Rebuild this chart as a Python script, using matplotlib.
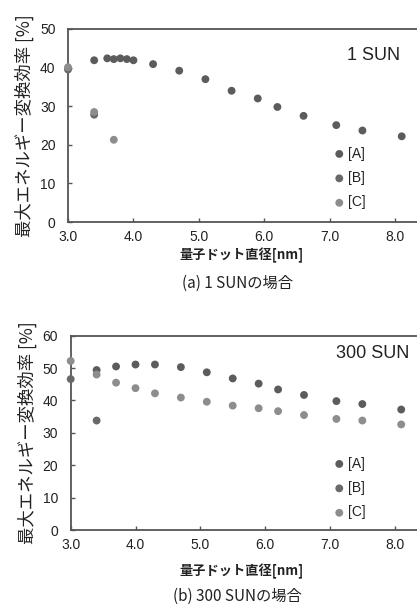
import matplotlib
matplotlib.use("Agg")
import matplotlib.pyplot as plt

plt.rcParams['font.family'] = ['Liberation Sans', 'Noto Sans CJK JP', 'DejaVu Sans']

# ---- data ----
# (a) 1 SUN
a1_x = [3.4, 3.6, 3.7, 3.8, 3.9, 4.0, 4.3, 4.7, 5.1, 5.5, 5.9, 6.2, 6.6, 7.1, 7.5, 8.1]
a1_y = [41.9, 42.4, 42.2, 42.4, 42.2, 41.9, 40.9, 39.2, 37.0, 34.0, 32.0, 29.8, 27.5, 25.1, 23.7, 22.2]
b1_x = [3.0, 3.4]
b1_y = [39.5, 27.8]
c1_x = [3.0, 3.4, 3.7]
c1_y = [40.1, 28.5, 21.3]

# (b) 300 SUN
a2_x = [3.4, 3.7, 4.0, 4.3, 4.7, 5.1, 5.5, 5.9, 6.2, 6.6, 7.1, 7.5, 8.1]
a2_y = [49.4, 50.5, 51.1, 51.1, 50.3, 48.7, 46.8, 45.2, 43.4, 41.7, 39.8, 38.9, 37.2]
b2_x = [3.0, 3.4]
b2_y = [46.6, 33.8]
c2_x = [3.0, 3.4, 3.7, 4.0, 4.3, 4.7, 5.1, 5.5, 5.9, 6.2, 6.6, 7.1, 7.5, 8.1]
c2_y = [52.2, 48.0, 45.5, 43.8, 42.2, 40.9, 39.6, 38.4, 37.6, 36.7, 35.5, 34.3, 33.8, 32.6]

series_labels = ['[A]', '[B]', '[C]']
x_ticks = [3.0, 4.0, 5.0, 6.0, 7.0, 8.0]
x_ticklabels = ['3.0', '4.0', '5.0', '6.0', '7.0', '8.0']
ylabel = '最大エネルギー変換効率 [%]'
xlabel = '量子ドット直径[nm]'

colors = ['#5c5c5c', '#696969', '#8d8d8d']
W, H = 417, 606
fig = plt.figure(figsize=(W / 100, H / 100), dpi=100)

def make_panel(rect, xlim, ymax, data, sun_text, sun_pos, leg_anchor):
    ax = fig.add_axes(rect)
    for (xs, ys), col, lab in zip(data, colors, series_labels):
        ax.scatter(xs, ys, s=32, color=col, edgecolors='none', label=lab, zorder=3, clip_on=False)
    ax.set_xlim(*xlim)
    ax.set_ylim(0, ymax)
    ax.set_xticks(x_ticks)
    ax.set_xticklabels(x_ticklabels)
    ax.set_yticks(range(0, ymax + 1, 10))
    ax.tick_params(direction='in', length=3, width=1, colors='#555555',
                   labelcolor='#222222', labelsize=10)
    ax.tick_params(axis='y', pad=9)
    ax.tick_params(axis='x', pad=6)
    ax.spines['right'].set_visible(False)
    for s in ['left', 'top', 'bottom']:
        ax.spines[s].set_color('#555555')
        ax.spines[s].set_linewidth(1.3)
    ax.set_ylabel(ylabel, fontsize=12.5, family=['Noto Sans CJK JP', 'DejaVu Sans'],
                  color='#222222', labelpad=4)
    ax.text(sun_pos[0], sun_pos[1], sun_text, transform=fig.transFigure,
            ha='right', va='center', fontsize=13, color='#222222')
    leg = ax.legend(loc='center left', bbox_to_anchor=leg_anchor, bbox_transform=fig.transFigure,
                    frameon=False, fontsize=10, handletextpad=0.0, labelspacing=0.75,
                    borderpad=0, markerscale=1.0, handlelength=1.2)
    for t in leg.get_texts():
        t.set_color('#222222')
    return ax

ax1 = make_panel([68 / W, 1 - 222 / H, (W - 68) / W + 0.001, (222 - 29) / H],
                 (3.0, 8.34), 50,
                 [(a1_x, a1_y), (b1_x, b1_y), (c1_x, c1_y)],
                 '1 SUN', (400 / W, 1 - 55 / H), (324 / W, 1 - 178 / H))
ax2 = make_panel([70.7 / W, 1 - 530 / H, (W - 70.7) / W + 0.001, (530 - 335.7) / H],
                 (3.0, 8.35), 60,
                 [(a2_x, a2_y), (b2_x, b2_y), (c2_x, c2_y)],
                 '300 SUN', (409 / W, 1 - 353 / H), (324 / W, 1 - 488 / H))

cjk = ['Noto Sans CJK JP', 'DejaVu Sans']
fig.text(242 / W, 1 - 255 / H, xlabel, ha='center', va='center', fontsize=9.5,
         fontweight='bold', family=cjk, color='#222222')
fig.text(237 / W, 1 - 283 / H, '(a) 1 SUNの場合', ha='center', va='center', fontsize=11,
         family=cjk, color='#222222')
fig.text(242 / W, 1 - 571.7 / H, xlabel, ha='center', va='center', fontsize=9.5,
         fontweight='bold', family=cjk, color='#222222')
fig.text(237 / W, 1 - 596 / H, '(b) 300 SUNの場合', ha='center', va='center', fontsize=11,
         family=cjk, color='#222222')

fig.savefig('out.png', dpi=100)
